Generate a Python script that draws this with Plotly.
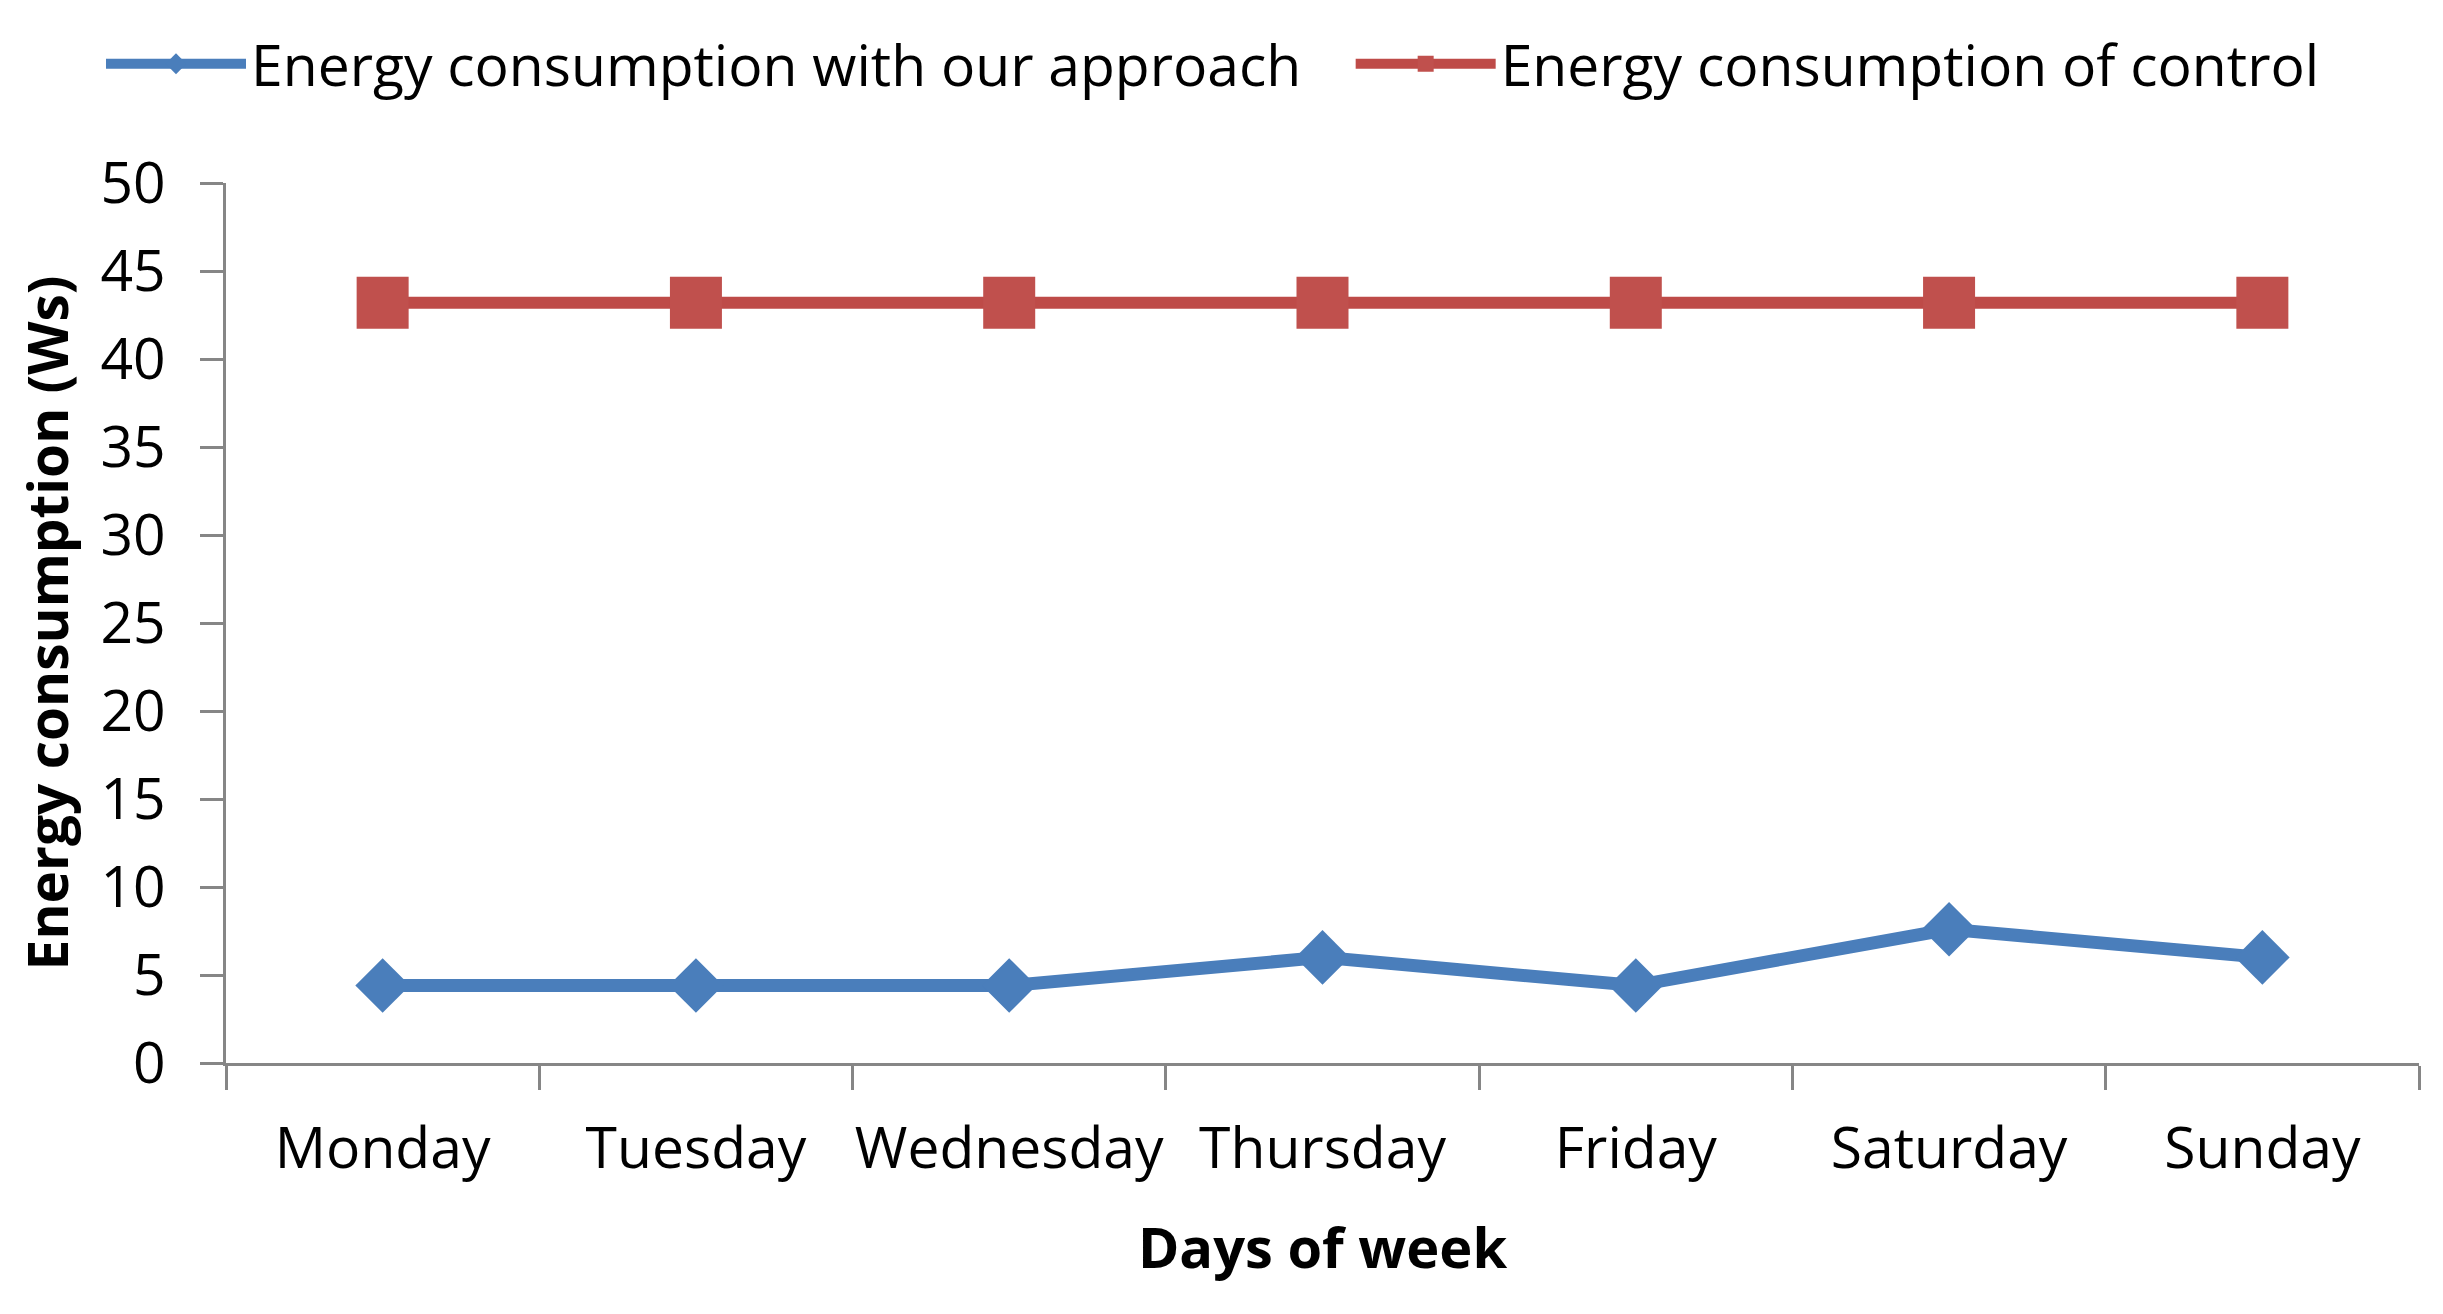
import plotly.graph_objects as go

days = ["Monday", "Tuesday", "Wednesday", "Thursday", "Friday", "Saturday", "Sunday"]
approach = [4.4, 4.4, 4.4, 6.0, 4.4, 7.6, 6.0]
control = [43.2, 43.2, 43.2, 43.2, 43.2, 43.2, 43.2]
y_ticks = [0, 5, 10, 15, 20, 25, 30, 35, 40, 45, 50]

FONT = "Open Sans"
FS = 57

fig = go.Figure()
fig.add_trace(go.Scatter(
    x=days, y=approach, mode="lines+markers",
    name="Energy consumption with our approach\u00a0\u00a0\u00a0",
    line=dict(color="#4A7EBB", width=13),
    marker=dict(symbol="diamond", size=42, color="#4A7EBB"),
))
fig.add_trace(go.Scatter(
    x=days, y=control, mode="lines+markers",
    name="Energy consumption of control",
    line=dict(color="#BE4B48", width=12),
    marker=dict(symbol="square", size=52, color="#C0504D"),
))

fig.update_layout(
    width=2443, height=1314,
    margin=dict(l=218, r=32, t=175, b=259),
    paper_bgcolor="white", plot_bgcolor="white",
    font=dict(family=FONT, size=FS, color="#000000"),
    showlegend=True,
    legend=dict(orientation="h", x=-0.057, xanchor="left", y=1.185, yanchor="top",
                font=dict(family=FONT, size=FS, color="#000000"),
                itemwidth=140, bgcolor="rgba(0,0,0,0)"),
    xaxis=dict(
        type="category", range=[-0.5, 6.5],
        showline=True, linecolor="#868686", linewidth=3,
        ticks="outside", tickson="boundaries", ticklen=24, tickcolor="#868686", tickwidth=3,
        showgrid=False, zeroline=False, tickangle=0,
        tickfont=dict(family=FONT, size=FS, color="#000000"),
        ticklabelstandoff=34,
        title=dict(text="<b>Days of week</b>", font=dict(family=FONT, size=56, color="#000000"), standoff=45),
    ),
    yaxis=dict(
        range=[0, 50], tickvals=y_ticks,
        showline=True, linecolor="#868686", linewidth=3,
        ticks="outside", ticklen=23, tickcolor="#868686", tickwidth=3,
        showgrid=False, zeroline=False,
        tickfont=dict(family=FONT, size=FS, color="#000000"),
        ticklabelstandoff=23,
        title=dict(text="<b>Energy consumption (Ws)</b>", font=dict(family=FONT, size=55, color="#000000"), standoff=15),
    ),
)

fig.write_html("out.html")
